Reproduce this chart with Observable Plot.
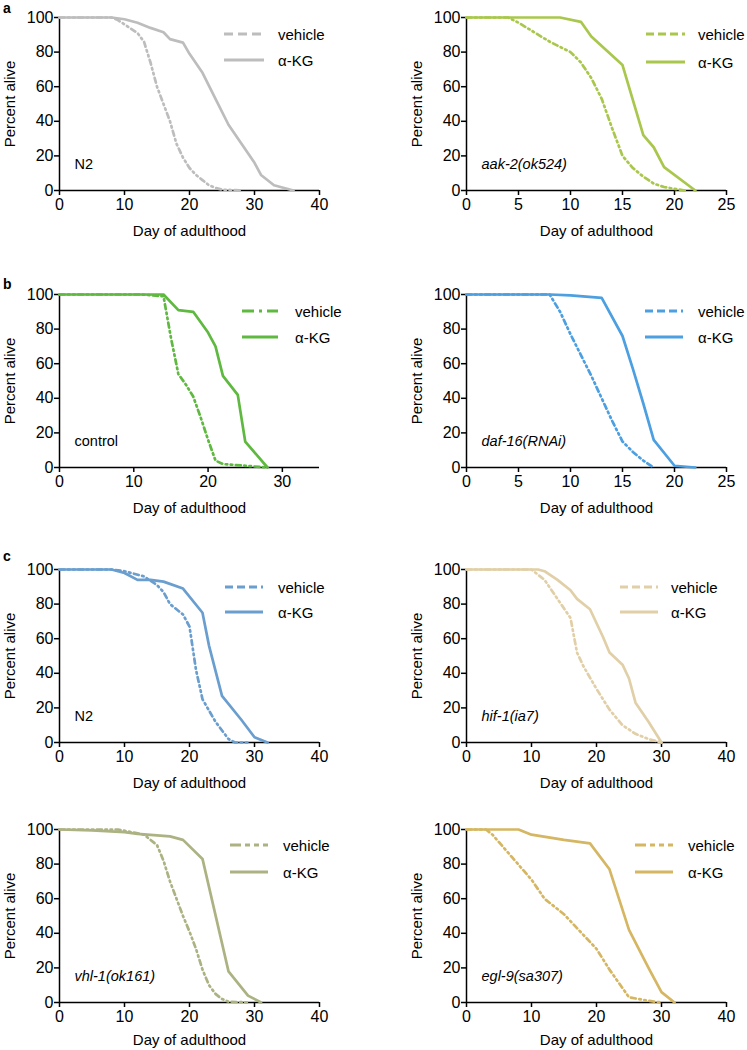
<!DOCTYPE html>
<html>
<head>
<meta charset="utf-8">
<script src="https://cdn.jsdelivr.net/npm/d3@7"></script>
<script src="https://cdn.jsdelivr.net/npm/@observablehq/plot@0.6"></script>
<style>
  body { margin: 0; background: #fff; font-family: "Liberation Sans", Arial, sans-serif; color: #000; }
  #fig { position: relative; width: 747px; height: 1050px; overflow: hidden; }
  .panel { position: absolute; }
  .tag { position: absolute; font-weight: bold; font-size: 14px; line-height: 1; }
  .legtext { position: absolute; font-size: 15px; line-height: 1; white-space: nowrap; transform: translateY(-50%); }
  .legline { position: absolute; overflow: visible; }
</style>
</head>
<body>
<div id="fig"></div>
<script>
// ---------- data: [day of adulthood, percent alive] ----------
const n2A_vehicle = [[0,100],[8,100],[9,98.5],[10,96],[12,91],[13,86],[14,74],[15,60],[16,50],[17,40],[18,27],[19,19],[20,13],[21,9],[22,6],[23,3],[24,1.5],[25,0.5],[28,0]];
const n2A_akg     = [[0,100],[8,100],[10,99],[12,97],[14,94],[16,91.5],[17,87.5],[19,85.5],[20,79],[22,68],[24,53],[26,38],[28,27],[30,16],[31,9],[33,3],[35,1],[36,0]];

const aak2_vehicle = [[0,100],[4,100],[5,97],[8,86],[10,80],[11,74],[12,65],[13,53],[14,36],[15,20],[16,13],[17,8],[18,4],[19,2],[20,1],[21,0]];
const aak2_akg     = [[0,100],[9,100],[11,97.5],[12,89],[15,72.5],[17,32],[18,25],[19,13.5],[22,0]];

const control_vehicle = [[0,100],[11,100],[14,99],[15,75],[16,54],[17,48],[18,41],[19,29],[20,16],[21,4],[22,2],[25,1],[28,0]];
const control_akg     = [[0,100],[14,100],[16,91],[18,90],[20,78],[21,70],[22,53],[24,42],[25,15],[28,0]];

const daf16_vehicle = [[0,100],[8,100],[9,90],[10,77],[11,65],[12,53],[13,40],[14,27],[15,15],[16,9],[17,4],[18,0]];
const daf16_akg     = [[0,100],[8,100],[10,99.5],[13,98],[15,76],[16,57],[17,37],[18,16],[20,1],[22,0]];

const n2C_vehicle = [[0,100],[8,100],[10,99],[13,96],[15,91],[16,87],[17,80],[19,74],[20,67],[21,42],[22,25],[24,12],[26,2],[27,0],[29,0]];
const n2C_akg     = [[0,100],[8,100],[10,98],[12,94],[14,94],[16,93],[19,89],[22,75],[23,56],[25,27],[28,13],[30,3],[32,0]];

const hif1_vehicle = [[0,100],[10,100],[12,94],[14,83],[16,72],[17,52],[18,44],[20,31],[22,19],[24,10],[26,5],[28,2],[30,0]];
const hif1_akg     = [[0,100],[11,100],[12,99],[14,94],[16,88],[17,83],[19,77],[21,61],[22,52],[24,45],[25,37],[26,23],[28,12],[30,0]];

const vhl1_vehicle = [[0,100],[9,100],[11,98.5],[13,97],[15,91],[16,82],[17,70],[18,60],[19,50],[20,41],[21,31],[22,19],[23,10],[24,5],[25,2],[26,0.5],[29,0]];
const vhl1_akg     = [[0,100],[5,99.5],[10,98.5],[12,97.5],[17,96],[19,94],[22,83],[26,18],[29,4],[31,0]];

const egl9_vehicle = [[0,100],[3,100],[4,97],[7,84],[10,71],[12,60],[15,51],[17,43],[20,31],[22,19],[25,3],[28,1],[30,0]];
const egl9_akg     = [[0,100],[8,100],[10,97],[15,94],[19,92],[22,77],[25,42],[28,20],[30,6],[32,0]];

// ---------- ticks & labels ----------
const yTicks = [0, 20, 40, 60, 80, 100];
const xTicks40 = [0, 10, 20, 30, 40];
const xTicks35 = [0, 10, 20, 30];
const xTicks25 = [0, 5, 10, 15, 20, 25];
const xTitle = "Day of adulthood";
const yTitle = "Percent alive";
const seriesNames = ["vehicle", "α-KG"];
const strainLabels = ["N2", "aak-2(ok524)", "control", "daf-16(RNAi)", "N2", "hif-1(ia7)", "vhl-1(ok161)", "egl-9(sa307)"];
const panelTags = ["a", "b", "c"];
const colors = ["#bdbdbd", "#a9c74c", "#5fb940", "#4c9fe0", "#6a9ecf", "#e1cfa7", "#adb283", "#d5b662"];

// ---------- layout ----------
const FRAME_H = 173;
const panels = [
  {veh: n2A_vehicle,     akg: n2A_akg,     xmax: 40, ticks: xTicks40, left: 0,   top: 0,   col: 0, xOff: 45, legDash: "9,5",          leg: {x1: 224, x2: 264, tx: 278, y1: 34,  y2: 60}},
  {veh: aak2_vehicle,    akg: aak2_akg,    xmax: 25, ticks: xTicks25, left: 373, top: 0,   col: 1, xOff: 45, legDash: "8,4",          leg: {x1: 646, x2: 685, tx: 698, y1: 34,  y2: 62}},
  {veh: control_vehicle, akg: control_akg, xmax: 35, ticks: xTicks35, left: 0,   top: 277, col: 0, xOff: 45, legDash: "12,5,3,5",     leg: {x1: 242, x2: 278, tx: 295, y1: 311, y2: 337}},
  {veh: daf16_vehicle,   akg: daf16_akg,   xmax: 25, ticks: xTicks25, left: 373, top: 277, col: 1, xOff: 45, legDash: "8,4",          leg: {x1: 645, x2: 683, tx: 698, y1: 311, y2: 337}},
  {veh: n2C_vehicle,     akg: n2C_akg,     xmax: 40, ticks: xTicks40, left: 0,   top: 552, col: 0, xOff: 45, legDash: "8,4",          leg: {x1: 225, x2: 263, tx: 278, y1: 587, y2: 612}},
  {veh: hif1_vehicle,    akg: hif1_akg,    xmax: 40, ticks: xTicks40, left: 373, top: 552, col: 1, xOff: 45, legDash: "8,4",          leg: {x1: 620, x2: 658, tx: 671, y1: 587, y2: 612}},
  {veh: vhl1_vehicle,    akg: vhl1_akg,    xmax: 40, ticks: xTicks40, left: 0,   top: 812, col: 0, xOff: 42, legDash: "11,4,5,4,5,4", leg: {x1: 230, x2: 268, tx: 283, y1: 845, y2: 872}},
  {veh: egl9_vehicle,    akg: egl9_akg,    xmax: 40, ticks: xTicks40, left: 373, top: 812, col: 1, xOff: 42, legDash: "11,4,5,4,5,4", leg: {x1: 635, x2: 673, tx: 688, y1: 845, y2: 872}}
];
const tagPos = [{x: 3, y: 1}, {x: 3, y: 277}, {x: 3, y: 549}];

const fig = document.getElementById("fig");
const FONT = "'Liberation Sans', Arial, Helvetica, sans-serif";
const vehicleDash = "5,3.5,1.6,3.5,1.6,3.5";

panels.forEach((p, i) => {
  const color = colors[i];
  const strain = strainLabels[i];
  const italic = !(strain === "N2" || strain === "control");
  const marginLeft = p.col === 0 ? 59 : 93;
  const width = p.col === 0 ? 373 : 374;
  const marginRight = p.col === 0 ? 54 : 21;
  const chart = Plot.plot({
    width,
    height: 17 + FRAME_H + 48,
    marginTop: 17,
    marginBottom: 48,
    marginLeft,
    marginRight,
    style: {fontSize: "15px", fontFamily: FONT, color: "#000", background: "transparent", overflow: "visible"},
    x: {domain: [0, p.xmax]},
    y: {domain: [0, 100]},
    marks: [
      Plot.axisX({ticks: p.ticks, tickSize: 5, tickPadding: 3, strokeWidth: 1.5, fontSize: 16, label: null}),
      Plot.axisX({ticks: [], tickSize: 0, fontSize: 15, label: xTitle, labelAnchor: "center", labelOffset: p.xOff, labelArrow: "none"}),
      Plot.axisY({ticks: yTicks, tickSize: 5, tickPadding: 1, strokeWidth: 1.5, fontSize: 16, label: null}),
      Plot.axisY({ticks: [], tickSize: 0, fontSize: 15, label: yTitle, labelAnchor: "center", labelOffset: 55, labelArrow: "none"}),
      Plot.ruleX([0], {stroke: "#000", strokeWidth: 1.5}),
      Plot.ruleY([0], {stroke: "#000", strokeWidth: 1.5}),
      Plot.line(p.veh, {x: d => d[0], y: d => d[1], stroke: color, strokeWidth: 2.7, strokeDasharray: vehicleDash}),
      Plot.line(p.akg, {x: d => d[0], y: d => d[1], stroke: color, strokeWidth: 2.7}),
      Plot.text([strain], {text: d => d, frameAnchor: "bottom-left", textAnchor: "start", lineAnchor: "middle", dx: 15, dy: -26, fontStyle: italic ? "italic" : "normal", fontSize: 14.5})
    ]
  });
  chart.classList.add("panel");
  chart.style.left = p.left + "px";
  chart.style.top = p.top + "px";
  fig.appendChild(chart);

  // legend
  const L = p.leg;
  const ns = "http://www.w3.org/2000/svg";
  const svg = document.createElementNS(ns, "svg");
  svg.setAttribute("class", "legline");
  svg.setAttribute("width", 747);
  svg.setAttribute("height", 1050);
  svg.style.left = "0px"; svg.style.top = "0px";
  [[L.y1, p.legDash], [L.y2, null]].forEach(([y, dash]) => {
    const ln = document.createElementNS(ns, "line");
    ln.setAttribute("x1", L.x1); ln.setAttribute("x2", L.x2);
    ln.setAttribute("y1", y); ln.setAttribute("y2", y);
    ln.setAttribute("stroke", color); ln.setAttribute("stroke-width", 3);
    if (dash) ln.setAttribute("stroke-dasharray", dash);
    svg.appendChild(ln);
  });
  fig.appendChild(svg);
  [[L.y1, seriesNames[0]], [L.y2, seriesNames[1]]].forEach(([y, t]) => {
    const d = document.createElement("div");
    d.className = "legtext";
    d.textContent = t;
    d.style.left = L.tx + "px";
    d.style.top = y + "px";
    fig.appendChild(d);
  });
});

panelTags.forEach((t, i) => {
  const d = document.createElement("div");
  d.className = "tag";
  d.textContent = t;
  d.style.left = tagPos[i].x + "px";
  d.style.top = tagPos[i].y + "px";
  fig.appendChild(d);
});
</script>
</body>
</html>
